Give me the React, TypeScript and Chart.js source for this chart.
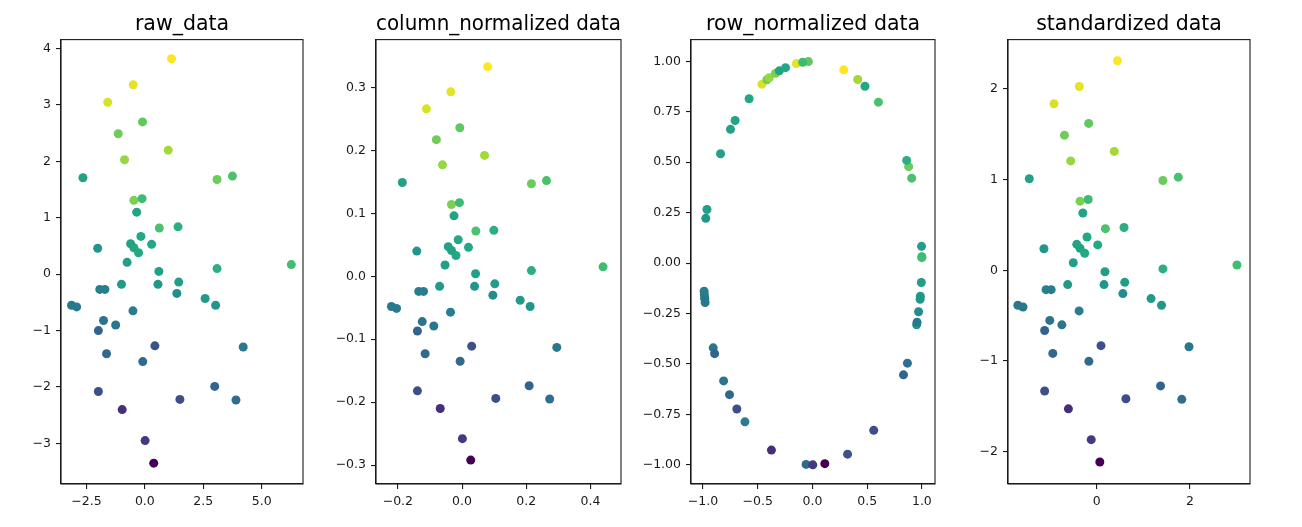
import React, { useEffect, useRef } from "react";
import { Chart, registerables } from "chart.js";

Chart.register(...registerables);

// ---------------- data ----------------
const panelTitles = ["raw_data", "column_normalized data", "row_normalized data", "standardized data"];

// colour value (0..1 on the viridis map) of each point
const colorValues = [
  1.0, 0.96, 0.94, 0.75, 0.78, 0.86, 0.84, 0.57, 0.77, 0.71,
  0.8, 0.68, 0.58, 0.71, 0.63, 0.6, 0.6, 0.57, 0.58, 0.6,
  0.52, 0.56, 0.56, 0.63, 0.69, 0.54, 0.42, 0.42, 0.52, 0.55,
  0.48, 0.54, 0.52, 0.4, 0.4, 0.42, 0.38, 0.39, 0.32, 0.25,
  0.4, 0.34, 0.34, 0.32, 0.24, 0.24, 0.36, 0.13, 0.17, 0.0,
];

const rawX = [
  1.14, -0.5, -1.59, -0.1, -1.14, 1.0, -0.87, -2.65, 3.09, 3.75,
  -0.47, -0.12, -0.35, 0.62, 1.42, -0.17, 0.29, -0.61, -0.47, -0.27,
  -2.02, -0.76, 0.6, 3.09, 6.27, -1.0, -1.93, -1.71, 0.56, 1.45,
  1.37, 2.58, 3.03, -3.14, -2.92, -0.51, -1.77, -1.25, -1.99, 0.43,
  4.21, -1.64, -0.09, 2.99, -1.99, 1.5, 3.9, -0.97, 0.01, 0.38,
];
const rawY = [
  3.82, 3.36, 3.05, 2.7, 2.49, 2.2, 2.03, 1.71, 1.68, 1.74,
  1.31, 1.34, 1.1, 0.82, 0.84, 0.67, 0.53, 0.54, 0.47, 0.38,
  0.46, 0.21, 0.05, 0.1, 0.17, -0.18, -0.27, -0.27, -0.18, -0.14,
  -0.34, -0.43, -0.55, -0.55, -0.58, -0.65, -0.82, -0.9, -1.0, -1.27,
  -1.29, -1.41, -1.55, -1.99, -2.08, -2.22, -2.23, -2.4, -2.95, -3.35,
];

const colNormX = [
  0.08, -0.035, -0.111, -0.007, -0.08, 0.07, -0.061, -0.186, 0.216, 0.263,
  -0.033, -0.008, -0.025, 0.043, 0.099, -0.012, 0.02, -0.043, -0.033, -0.019,
  -0.141, -0.053, 0.042, 0.216, 0.439, -0.07, -0.135, -0.12, 0.039, 0.102,
  0.096, 0.181, 0.212, -0.22, -0.204, -0.036, -0.124, -0.088, -0.139, 0.03,
  0.295, -0.115, -0.006, 0.209, -0.139, 0.105, 0.273, -0.068, 0.001, 0.027,
];
const colNormY = [
  0.333, 0.293, 0.266, 0.236, 0.217, 0.192, 0.177, 0.149, 0.147, 0.152,
  0.114, 0.117, 0.096, 0.072, 0.073, 0.058, 0.046, 0.047, 0.041, 0.033,
  0.04, 0.018, 0.004, 0.009, 0.015, -0.016, -0.024, -0.024, -0.016, -0.012,
  -0.03, -0.038, -0.048, -0.048, -0.051, -0.057, -0.072, -0.079, -0.087, -0.111,
  -0.113, -0.123, -0.135, -0.174, -0.182, -0.194, -0.195, -0.21, -0.258, -0.292,
];

const rowNormX = [
  0.286, -0.147, -0.462, -0.037, -0.416, 0.414, -0.394, -0.84, 0.879, 0.907,
  -0.338, -0.089, -0.303, 0.603, 0.861, -0.246, 0.48, -0.749, -0.707, -0.579,
  -0.975, -0.964, 0.997, 0.9995, 0.9996, -0.984, -0.99, -0.988, 0.952, 0.995,
  0.97, 0.986, 0.984, -0.985, -0.981, -0.617, -0.907, -0.812, -0.894, 0.321,
  0.956, -0.758, -0.058, 0.832, -0.691, 0.56, 0.868, -0.375, 0.003, 0.113,
];
const rowNormY = [
  0.958, 0.989, 0.887, 0.999, 0.909, 0.91, 0.919, 0.542, 0.478, 0.421,
  0.941, 0.996, 0.953, 0.798, 0.509, 0.969, 0.877, 0.663, 0.707, 0.815,
  0.222, 0.266, 0.083, 0.032, 0.027, -0.177, -0.139, -0.156, -0.306, -0.096,
  -0.241, -0.164, -0.179, -0.173, -0.195, -0.787, -0.42, -0.584, -0.449, -0.947,
  -0.293, -0.652, -0.998, -0.554, -0.723, -0.829, -0.496, -0.927, -1.0, -0.994,
];

const stdX = [
  0.445, -0.375, -0.92, -0.175, -0.695, 0.375, -0.56, -1.45, 1.42, 1.75,
  -0.36, -0.185, -0.3, 0.185, 0.585, -0.21, 0.02, -0.43, -0.36, -0.26,
  -1.135, -0.505, 0.175, 1.42, 3.01, -0.625, -1.09, -0.98, 0.155, 0.6,
  0.56, 1.165, 1.39, -1.695, -1.585, -0.38, -1.01, -0.75, -1.12, 0.09,
  1.98, -0.945, -0.17, 1.37, -1.12, 0.625, 1.825, -0.61, -0.12, 0.065,
];
const stdY = [
  2.311, 2.027, 1.836, 1.62, 1.49, 1.311, 1.206, 1.009, 0.99, 1.027,
  0.762, 0.78, 0.632, 0.459, 0.472, 0.367, 0.28, 0.286, 0.243, 0.188,
  0.237, 0.083, -0.016, 0.015, 0.058, -0.158, -0.214, -0.214, -0.158, -0.133,
  -0.257, -0.312, -0.386, -0.386, -0.405, -0.448, -0.553, -0.602, -0.664, -0.831,
  -0.843, -0.917, -1.004, -1.275, -1.331, -1.417, -1.423, -1.528, -1.868, -2.115,
];

// tick values
const rawXTicks = [-2.5, 0, 2.5, 5];
const rawYTicks = [-3, -2, -1, 0, 1, 2, 3, 4];
const colXTicks = [-0.2, 0, 0.2, 0.4];
const colYTicks = [-0.3, -0.2, -0.1, 0, 0.1, 0.2, 0.3];
const rowXTicks = [-1, -0.5, 0, 0.5, 1];
const rowYTicks = [-1, -0.75, -0.5, -0.25, 0, 0.25, 0.5, 0.75, 1];
const stdXTicks = [0, 2];
const stdYTicks = [-2, -1, 0, 1, 2];

// axis limits
const rawXRange = [-3.59, 6.77];
const rawYRange = [-3.72, 4.16];
const colXRange = [-0.268, 0.495];
const colYRange = [-0.33, 0.376];
const rowXRange = [-1.11, 1.12];
const rowYRange = [-1.095, 1.108];
const stdXRange = [-1.907, 3.29];
const stdYRange = [-2.357, 2.544];

// ---------------- styling ----------------
const FONT = "'DejaVu Sans', 'Liberation Sans', sans-serif";
const Y_AXIS_W = 52;
const TOTAL_H = 527;
const PLOT_BOTTOM = 484;
const X_AXIS_H = TOTAL_H - PLOT_BOTTOM;
const RIGHT_PAD = 22;
const INK = "#1a1a1a";

const VIRIDIS = [
  "#440154", "#482475", "#414487", "#355f8d", "#2a788e", "#21918c",
  "#22a884", "#44bf70", "#7ad151", "#bddf26", "#fde725",
];

function hexToRgb(h: string) {
  return [parseInt(h.slice(1, 3), 16), parseInt(h.slice(3, 5), 16), parseInt(h.slice(5, 7), 16)];
}

function viridis(t: number) {
  const c = Math.max(0, Math.min(1, t)) * 10;
  const i = Math.min(9, Math.floor(c));
  const f = c - i;
  const a = hexToRgb(VIRIDIS[i]);
  const b = hexToRgb(VIRIDIS[i + 1]);
  const m = a.map((v, k) => Math.round(v + (b[k] - v) * f));
  return `rgb(${m[0]},${m[1]},${m[2]})`;
}

const fmt = (dec: number) => (v: number | string) => {
  let n = Number(v);
  if (Math.abs(n) < 1e-9) n = 0;
  return n.toFixed(dec).replace("-", "\u2212");
};

const framePlugin = {
  id: "frame",
  afterDraw(chart: any) {
    const { ctx, chartArea: a } = chart;
    ctx.save();
    ctx.strokeStyle = INK;
    ctx.lineWidth = 1.1;
    ctx.strokeRect(a.left, a.top, a.right - a.left, a.bottom - a.top);
    ctx.restore();
  },
};

type PanelCfg = {
  title: string;
  xs: number[];
  ys: number[];
  xTicks: number[];
  yTicks: number[];
  xRange: number[];
  yRange: number[];
  xDec: number;
  yDec: number;
  left: number;
  width: number;
};

const panels: PanelCfg[] = [
  { title: panelTitles[0], xs: rawX, ys: rawY, xTicks: rawXTicks, yTicks: rawYTicks, xRange: rawXRange, yRange: rawYRange, xDec: 1, yDec: 0, left: 61, width: 242 },
  { title: panelTitles[1], xs: colNormX, ys: colNormY, xTicks: colXTicks, yTicks: colYTicks, xRange: colXRange, yRange: colYRange, xDec: 1, yDec: 1, left: 376, width: 245 },
  { title: panelTitles[2], xs: rowNormX, ys: rowNormY, xTicks: rowXTicks, yTicks: rowYTicks, xRange: rowXRange, yRange: rowYRange, xDec: 1, yDec: 2, left: 691, width: 244 },
  { title: panelTitles[3], xs: stdX, ys: stdY, xTicks: stdXTicks, yTicks: stdYTicks, xRange: stdXRange, yRange: stdYRange, xDec: 0, yDec: 0, left: 1008, width: 242 },
];

function axisCommon(ticks: number[], dec: number) {
  return {
    type: "linear" as const,
    afterBuildTicks: (s: any) => {
      s.ticks = ticks.map((v) => ({ value: v }));
    },
    ticks: {
      callback: fmt(dec),
      color: INK,
      font: { size: 12.5, family: FONT },
      padding: 5,
      maxRotation: 0,
      autoSkip: false,
    },
    grid: {
      display: true,
      drawOnChartArea: false,
      drawTicks: true,
      tickLength: 5,
      color: INK,
      lineWidth: 1.1,
    },
    border: { display: true, color: INK, width: 1.1 },
  };
}

function Panel({ cfg }: { cfg: PanelCfg }) {
  const ref = useRef<HTMLCanvasElement>(null);
  useEffect(() => {
    if (!ref.current) return;
    const chart = new Chart(ref.current, {
      type: "scatter",
      data: {
        datasets: [
          {
            data: cfg.xs.map((x, i) => ({ x, y: cfg.ys[i] })),
            pointRadius: 4.5,
            pointHoverRadius: 4.5,
            pointBorderWidth: 0,
            pointBackgroundColor: colorValues.map(viridis),
            borderWidth: 0,
          },
        ],
      },
      options: {
        animation: false,
        responsive: true,
        maintainAspectRatio: false,
        events: [],
        layout: { padding: { left: 0, right: RIGHT_PAD, top: 0, bottom: 0 } },
        plugins: {
          legend: { display: false },
          tooltip: { enabled: false },
          title: {
            display: true,
            fullSize: false,
            text: cfg.title,
            color: "#000",
            font: { size: 20.5, weight: "normal", family: FONT, lineHeight: 1.2 },
            padding: { top: 12, bottom: 3 },
          },
        },
        scales: {
          x: {
            ...axisCommon(cfg.xTicks, cfg.xDec),
            position: "bottom",
            min: cfg.xRange[0],
            max: cfg.xRange[1],
            afterFit: (s: any) => {
              s.height = X_AXIS_H;
            },
          },
          y: {
            ...axisCommon(cfg.yTicks, cfg.yDec),
            position: "left",
            min: cfg.yRange[0],
            max: cfg.yRange[1],
            afterFit: (s: any) => {
              s.width = Y_AXIS_W;
            },
          },
        },
      } as any,
      plugins: [framePlugin],
    });
    return () => chart.destroy();
  }, [cfg]);

  return (
    <div
      style={{
        position: "absolute",
        left: cfg.left - Y_AXIS_W,
        top: 0,
        width: Y_AXIS_W + cfg.width + RIGHT_PAD,
        height: TOTAL_H,
      }}
    >
      <canvas ref={ref} />
    </div>
  );
}

export default function App() {
  return (
    <div
      style={{
        position: "absolute",
        left: 0,
        top: 0,
        width: 1302,
        height: TOTAL_H,
        background: "#fff",
        overflow: "hidden",
      }}
    >
      {panels.map((p) => (
        <Panel key={p.title} cfg={p} />
      ))}
    </div>
  );
}
